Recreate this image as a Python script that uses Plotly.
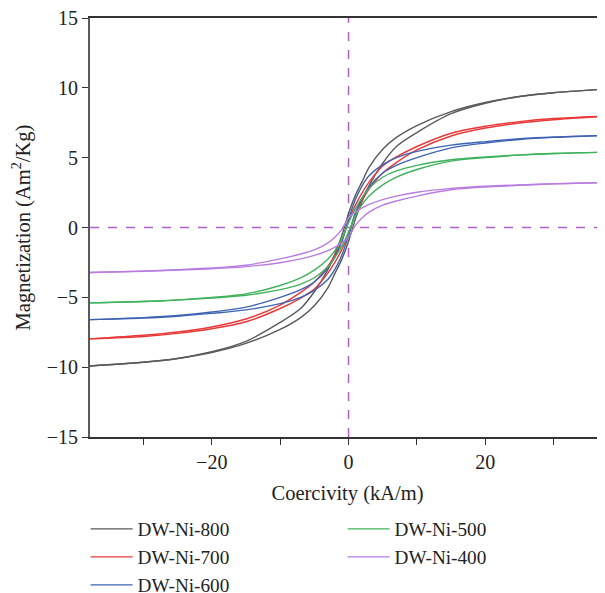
import plotly.graph_objects as go

# Applied field grid (kA/m)
field = [-38, -30, -25, -20, -15, -10, -7, -5, -3, -2, -1, 0, 1, 2, 3, 5, 7, 10, 15, 20, 25, 30, 38]

series_names = ["DW-Ni-800", "DW-Ni-700", "DW-Ni-600", "DW-Ni-500", "DW-Ni-400"]

# Descending-field branch (upper branch), Am^2/Kg
ni800_down = [-9.92, -9.65, -9.38, -8.9, -8.15, -6.8, -5.8, -4.6, -3.0, -1.9, -0.6, 1.0, 2.3, 3.3, 4.3, 5.6, 6.45, 7.3, 8.3, 8.95, 9.38, 9.65, 9.92]
ni700_down = [-7.98, -7.72, -7.48, -7.12, -6.55, -5.55, -4.65, -3.9, -2.75, -1.95, -1.0, 0.5, 1.6, 2.5, 3.25, 4.4, 5.05, 5.8, 6.75, 7.25, 7.58, 7.8, 7.98]
ni600_down = [-6.6, -6.45, -6.3, -6.05, -5.7, -5.0, -4.45, -3.9, -2.9, -2.1, -1.05, 0.6, 2.0, 3.0, 3.7, 4.5, 5.0, 5.45, 5.9, 6.15, 6.35, 6.48, 6.6]
ni500_down = [-5.4, -5.3, -5.18, -5.0, -4.75, -4.15, -3.6, -3.05, -2.25, -1.65, -0.85, 0.35, 1.35, 2.15, 2.8, 3.6, 4.05, 4.45, 4.85, 5.05, 5.2, 5.3, 5.4]
ni400_down = [-3.22, -3.12, -3.02, -2.9, -2.7, -2.25, -1.9, -1.6, -1.1, -0.7, -0.15, 0.7, 1.1, 1.4, 1.65, 2.0, 2.25, 2.52, 2.8, 2.95, 3.05, 3.13, 3.22]

# Ascending-field branch (lower branch), Am^2/Kg
ni800_up = [-9.92, -9.65, -9.38, -8.95, -8.3, -7.3, -6.45, -5.6, -4.3, -3.3, -2.3, -1.0, 0.6, 1.9, 3.0, 4.6, 5.8, 6.8, 8.15, 8.9, 9.38, 9.65, 9.92]
ni700_up = [-7.98, -7.8, -7.58, -7.25, -6.75, -5.8, -5.05, -4.4, -3.25, -2.5, -1.6, -0.5, 1.0, 1.95, 2.75, 3.9, 4.65, 5.55, 6.55, 7.12, 7.48, 7.72, 7.98]
ni600_up = [-6.6, -6.48, -6.35, -6.15, -5.9, -5.45, -5.0, -4.5, -3.7, -3.0, -2.0, -0.6, 1.05, 2.1, 2.9, 3.9, 4.45, 5.0, 5.7, 6.05, 6.3, 6.45, 6.6]
ni500_up = [-5.4, -5.3, -5.2, -5.05, -4.85, -4.45, -4.05, -3.6, -2.8, -2.15, -1.35, -0.35, 0.85, 1.65, 2.25, 3.05, 3.6, 4.15, 4.75, 5.0, 5.18, 5.3, 5.4]
ni400_up = [-3.22, -3.13, -3.05, -2.95, -2.8, -2.52, -2.25, -2.0, -1.65, -1.4, -1.1, -0.7, 0.15, 0.7, 1.1, 1.6, 1.9, 2.25, 2.7, 2.9, 3.02, 3.12, 3.22]

colors = ["#5a5a5a", "#e8393a", "#3f63b3", "#40b25c", "#b97de0"]

x_tickvals = [-20, 0, 20]
y_tickvals = [-15, -10, -5, 0, 5, 10, 15]

FONT = "Liberation Serif"

downs = [ni800_down, ni700_down, ni600_down, ni500_down, ni400_down]
ups = [ni800_up, ni700_up, ni600_up, ni500_up, ni400_up]
# legend order: row-wise 800, 500 / 700, 400 / 600
ranks = [1, 3, 5, 2, 4]

fig = go.Figure()
for name, col, d, u, rk in zip(series_names, colors, downs, ups, ranks):
    fig.add_trace(go.Scatter(x=field, y=d, mode="lines", name=name, legendgroup=name,
                             legendrank=rk, showlegend=True,
                             line=dict(color=col, width=1.4, shape="spline", smoothing=0.8)))
    fig.add_trace(go.Scatter(x=field, y=u, mode="lines", name=name, legendgroup=name,
                             legendrank=rk, showlegend=False,
                             line=dict(color=col, width=1.4, shape="spline", smoothing=0.8)))

dash_col = "#b060cc"
fig.add_shape(type="line", xref="paper", yref="y", x0=0, x1=1, y0=0, y1=0,
              line=dict(color=dash_col, width=1.5, dash="dash"), layer="below")
fig.add_shape(type="line", xref="x", yref="paper", x0=0, x1=0, y0=0, y1=1,
              line=dict(color=dash_col, width=1.5, dash="dash"), layer="below")

# page body adds an 8px offset, so the figure is sized to the remaining visible area
fig.update_layout(
    width=597, height=585,
    margin=dict(l=82, r=0, t=10, b=156, autoexpand=False),
    paper_bgcolor="white", plot_bgcolor="white",
    font=dict(family=FONT, size=20, color="#222222"),
    showlegend=True,
    legend=dict(orientation="h", xref="container", yref="container",
                x=0.13, xanchor="left", y=0.142, yanchor="top",
                entrywidth=200, entrywidthmode="pixels", itemwidth=42,
                font=dict(family=FONT, size=19.2, color="#222222"),
                bgcolor="rgba(0,0,0,0)", traceorder="normal"),
    xaxis=dict(range=[-37.8, 37.5], tickvals=x_tickvals, ticks="outside", ticklen=6,
               tickwidth=1.2, tickcolor="#333333", automargin=False, ticklabeloverflow="allow",
               minor=dict(dtick=10, tick0=0, ticks="outside", ticklen=6, tickwidth=1.2, tickcolor="#333333"),
               showline=True, linecolor="#333333", linewidth=1.5, mirror=True,
               showgrid=False, zeroline=False,
               title=dict(text="Coercivity (kA/m)", font=dict(family=FONT, size=20.5), standoff=14),
               tickfont=dict(family=FONT, size=20)),
    yaxis=dict(range=[-15, 15], tickvals=y_tickvals, ticks="outside", ticklen=6,
               tickwidth=1.2, tickcolor="#333333", automargin=False, ticklabeloverflow="allow",
               showline=True, linecolor="#5a5a5a", linewidth=2, mirror=False,
               showgrid=False, zeroline=False,
               title=dict(text="Magnetization (Am<sup>2</sup>/Kg)", font=dict(family=FONT, size=20.5), standoff=14),
               tickfont=dict(family=FONT, size=20)),
)

fig.write_html("out.html")
